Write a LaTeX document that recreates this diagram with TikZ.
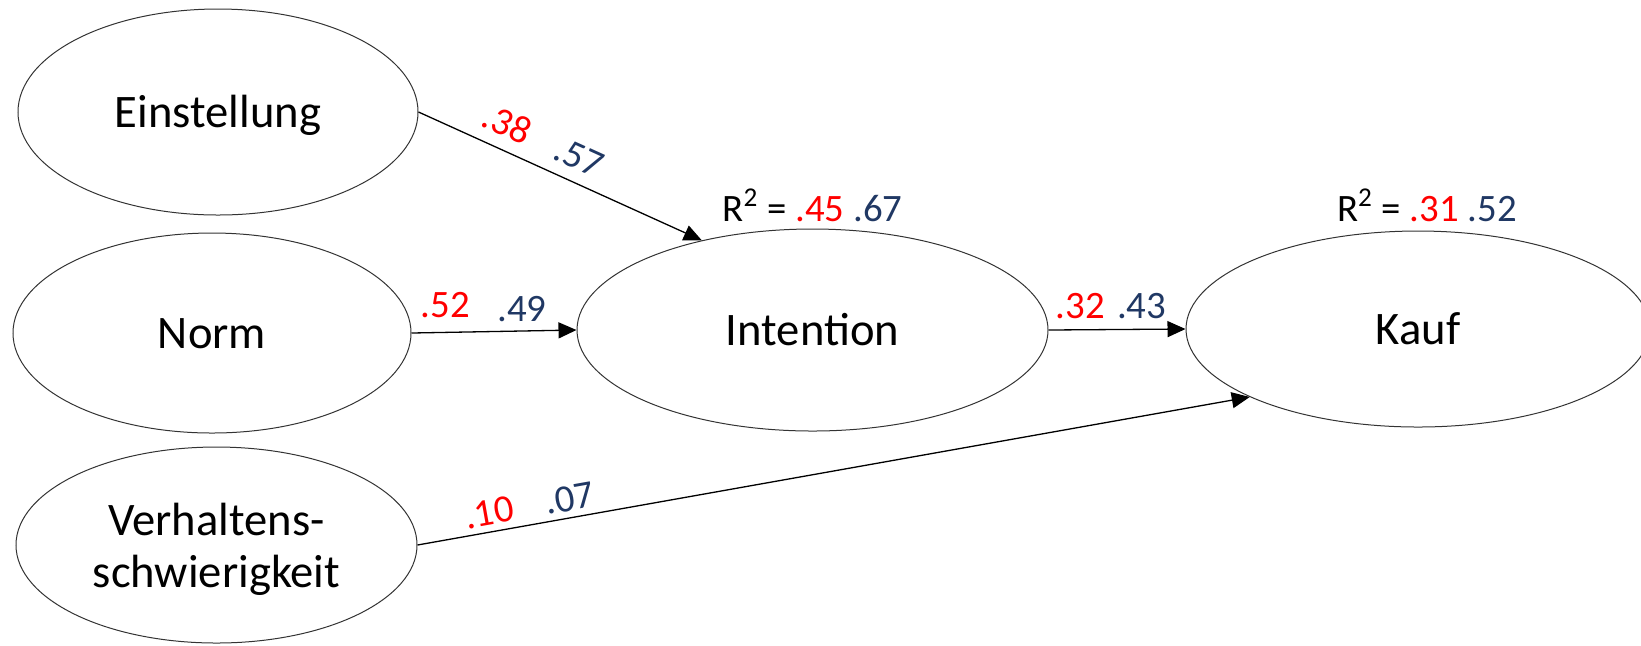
\documentclass[tikz,border=0pt]{standalone}
\usepackage{fontspec}
\setmainfont{Carlito}
\usetikzlibrary{shapes.geometric,arrows.meta}
\definecolor{lred}{RGB}{255,0,0}
\definecolor{lblue}{RGB}{32,56,100}
\tikzset{
  ell/.style={ellipse, draw=black!80, line width=0.5pt, inner sep=0pt,
    font=\fontsize{23.3}{26}\selectfont},
  capc/.style={text height=15pt, text depth=0pt},
  arr/.style={line width=0.65pt, -{Triangle[length=9pt,width=8pt]}},
  lbl/.style={font=\fontsize{19.4}{22}\selectfont, inner sep=0pt},
  rl/.style={lbl, text=lred},
  bl/.style={lbl, text=lblue}
}
\begin{document}
\begin{tikzpicture}[x=0.5pt,y=-0.5pt]
\useasboundingbox (0,0) rectangle (1641,645);
\node[ell, capc, minimum width=200pt, minimum height=103pt] (ein) at (218,112) {Einstellung};
\node[ell, capc, minimum width=199pt, minimum height=100pt] (norm) at (212,333) {Norm};
\node[ell, minimum width=200.5pt, minimum height=98pt] (verh) at (216.5,545) {};
\node[font=\fontsize{23.3}{26}\selectfont, align=center, inner sep=0pt] (verhtxt) at ([yshift=-2pt]verh.center) {Verhaltens-\\schwierigkeit};
\node[ell, capc, minimum width=235.5pt, minimum height=101pt] (int) at (812.5,330) {Intention};
\node[ell, capc, minimum width=232pt, minimum height=98pt] (kauf) at (1418,329) {Kauf};

\draw[arr] (ein.east) -- (int.141.7)
  node[rl, pos=0.275, sloped, above=6pt] (l38) {.38}
  node[bl, pos=0.53, sloped, above=6pt] (l57) {.57};
\draw[arr] (norm.east) -- (int.west)
  node[rl, pos=0.205, above=7pt] (l52) {.52}
  node[bl, pos=0.67, above=4.5pt] (l49) {.49};
\draw[arr] (int.east) -- (kauf.west)
  node[rl, pos=0.232, above=5pt] (l32) {.32}
  node[bl, pos=0.68, above=5pt] (l43) {.43};
\draw[arr] (verh.east) -- (kauf.202.6)
  node[rl, pos=0.09, sloped, above=3pt] (l10) {.10}
  node[bl, pos=0.187, sloped, above=3pt] (l07) {.07};

\node[lbl, anchor=base] (r2i) at ([yshift=3.5pt]int.north) {R\textsuperscript{2} = \textcolor{lred}{.45} \textcolor{lblue}{.67}};
\node[lbl, anchor=base] (r2k) at ([xshift=4.5pt,yshift=4.5pt]kauf.north) {R\textsuperscript{2} = \textcolor{lred}{.31} \textcolor{lblue}{.52}};
\end{tikzpicture}
\end{document}
